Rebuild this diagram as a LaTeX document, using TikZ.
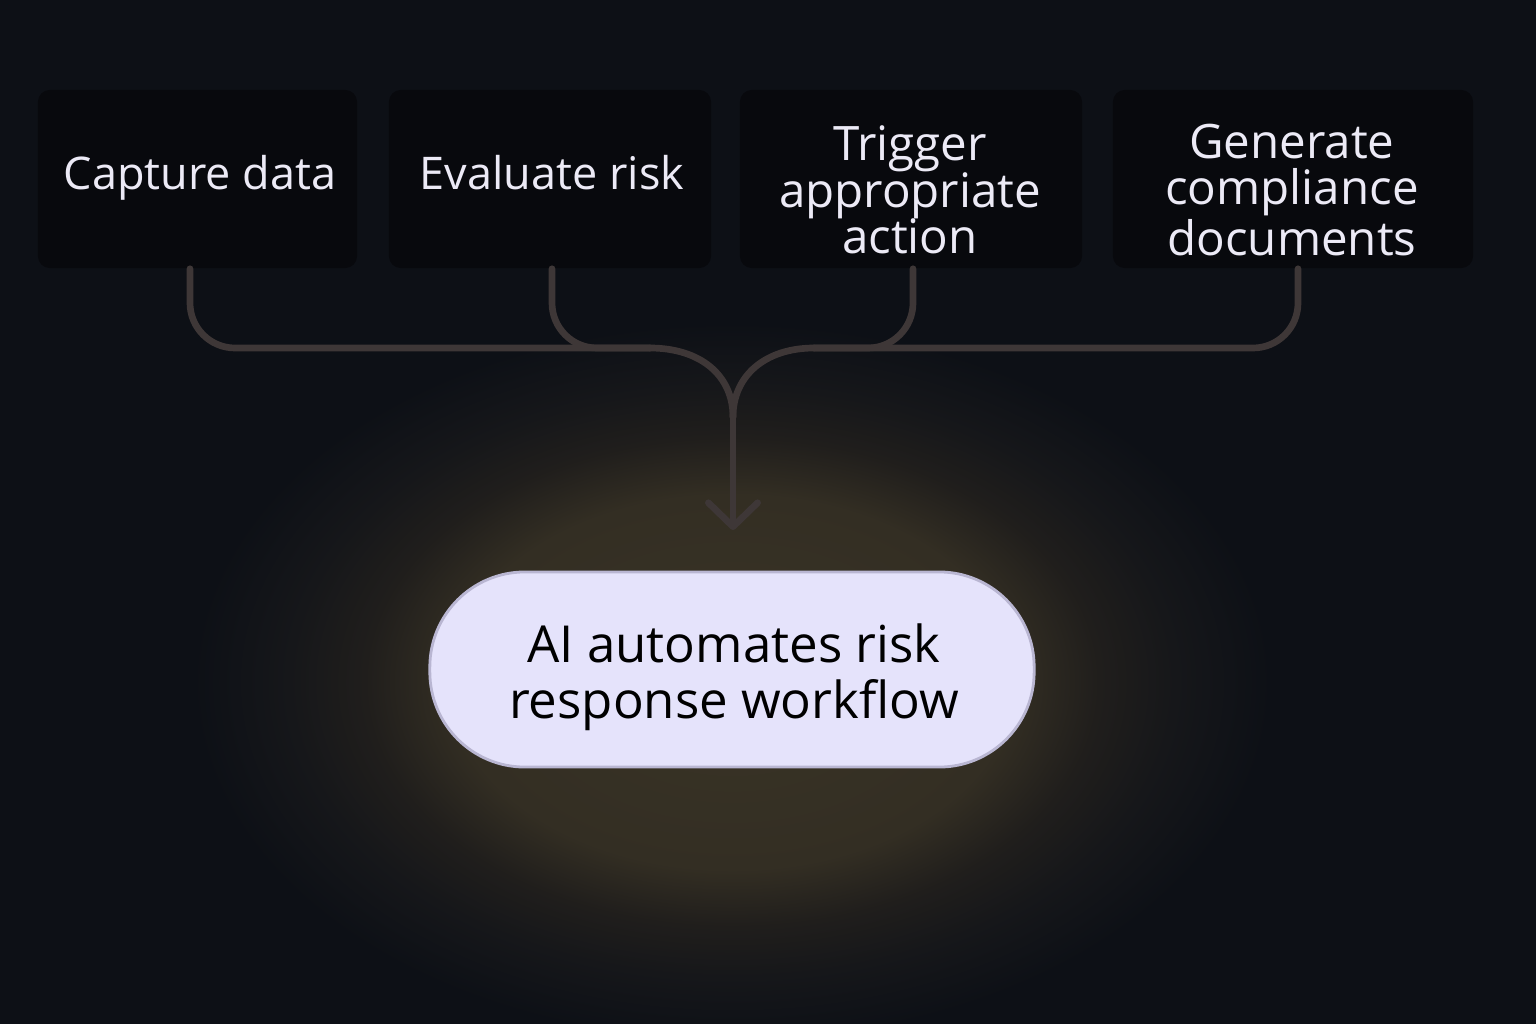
\documentclass[tikz,border=0pt]{standalone}
\usepackage{fontspec}
\setmainfont{Open Sans}
\usetikzlibrary{arrows.meta}
\definecolor{bg}{HTML}{0D1016}
\definecolor{boxfill}{HTML}{08090D}
\definecolor{txt}{HTML}{ECEAF6}
\definecolor{connc}{HTML}{3E3737}
\definecolor{pillc}{HTML}{E5E3FB}
\definecolor{pillborder}{HTML}{B9B6D2}
\definecolor{glowA}{HTML}{3A3426}
\definecolor{glowB}{HTML}{332E23}
\definecolor{glowC}{HTML}{201E1C}
\definecolor{glowD}{HTML}{16171A}
\pgfdeclareradialshading{glowshade}{\pgfpoint{0bp}{0bp}}{color(0bp)=(glowA); color(13bp)=(glowB); color(17bp)=(glowC); color(20.5bp)=(glowD); color(25bp)=(bg); color(50bp)=(bg)}
\begin{document}
\begin{tikzpicture}[x=0.01cm,y=-0.01cm,
  card/.style={fill=boxfill, rounded corners=0.12cm, inner sep=0pt},
  cardtext/.style={text=txt, align=center, inner sep=0pt,
    font=\fontsize{13.5}{13.2}\selectfont},
  shorttext/.style={cardtext, anchor=base, font=\fontsize{12.8}{13.2}\selectfont},
  pillnode/.style={fill=pillc, draw=pillborder, line width=0.8pt, rounded corners=0.95cm,
    minimum width=6.04cm, minimum height=1.95cm},
  pilltext/.style={align=center, text=black, inner sep=0pt,
    font=\fontsize{14.5}{15.8}\selectfont},
  link/.style={draw=connc, line width=1.9pt, line cap=round, line join=round}]
\useasboundingbox (0,0) rectangle (1536,1024);
\fill[bg] (0,0) rectangle (1536,1024);
\begin{scope}
\clip (0,0) rectangle (1536,1024);
\shade[shading=glowshade] (732,682) ellipse [x radius=540, y radius=360];
\end{scope}
\node[card, minimum width=3.19cm, minimum height=1.78cm] (cap) at (197.5,179) {};
\node[card, minimum width=3.22cm, minimum height=1.78cm] (ev) at (550,179) {};
\node[card, minimum width=3.42cm, minimum height=1.78cm] (tr) at (911,179) {};
\node[card, minimum width=3.60cm, minimum height=1.78cm] (gen) at (1293,179) {};
\node[shorttext] (capt) at (200,189) {Capture data};
\node[shorttext] (evt) at (552,189) {Evaluate risk};
\node[cardtext] (trt) at (910,190) {Trigger\\appropriate\\action};
\node[cardtext] (gent) at (1292,190) {Generate\\compliance\\documents};
\node[pillnode] (ai) at (732,669.5) {};
\node[pilltext] (ait) at (734,677) {AI automates risk\\response workflow};
\coordinate (hl) at (650,348);
\coordinate (hr) at (814,348);
\coordinate (merge) at (733,417);
\coordinate (tip) at (733,530);
\draw[link, rounded corners=0.45cm] (cap.south -| 190,0) |- (hl);
\draw[link, rounded corners=0.45cm] (ev.south -| 552,0) |- (hl);
\draw[link] (hl) .. controls (700,348) and (733,375) .. (merge);
\draw[link, rounded corners=0.45cm] (gen.south -| 1298,0) |- (hr);
\draw[link, rounded corners=0.45cm] (tr.south -| 913,0) |- (hr);
\draw[link] (hr) .. controls (766,348) and (733,375) .. (merge);
\draw[link, -{Straight Barb[length=6.8pt,width=14pt,round]}] (merge) -- (tip);
\end{tikzpicture}
\end{document}
